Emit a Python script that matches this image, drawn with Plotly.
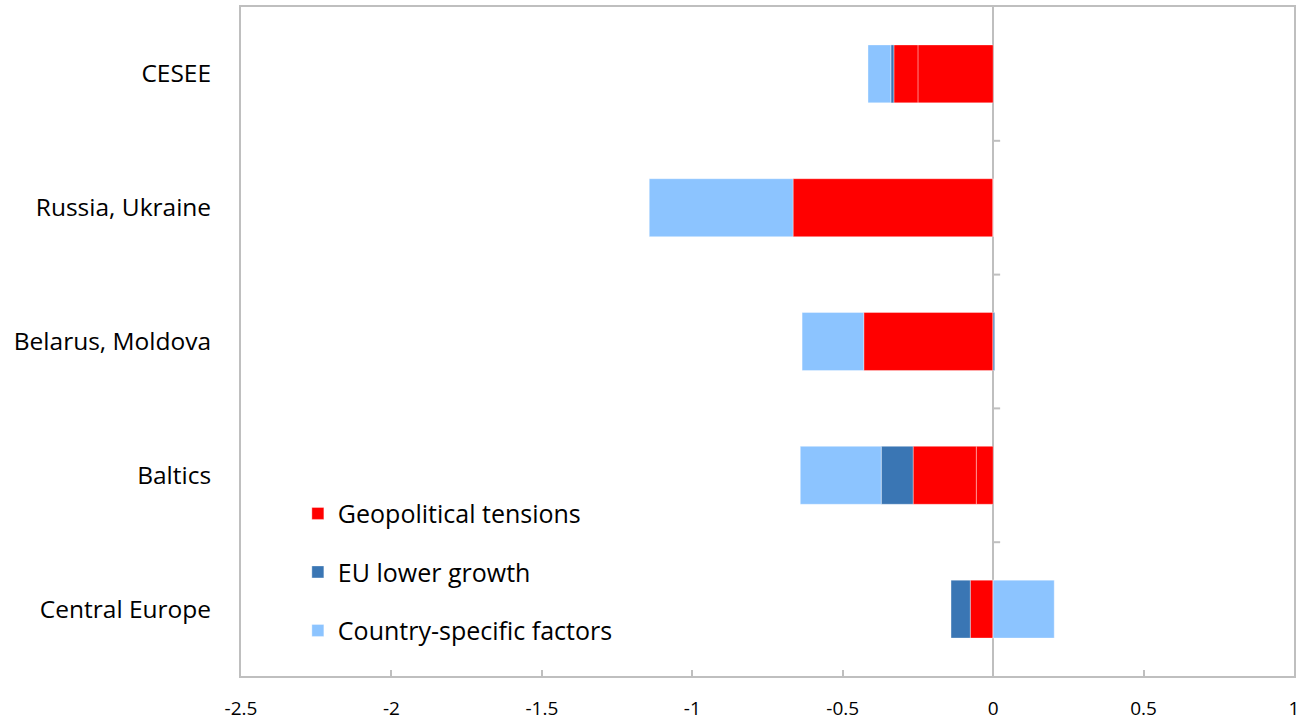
import plotly.graph_objects as go

# Regions, top to bottom
regions = ["CESEE", "Russia, Ukraine", "Belarus, Moldova", "Baltics", "Central Europe"]

# Contributions (percentage points), stacked outward from zero
geopolitical_a = [-0.25, -0.665, -0.43, -0.056, -0.076]
geopolitical_b = [-0.08, 0.0, 0.0, -0.21, 0.0]
eu_lower_growth = [-0.01, 0.0, 0.005, -0.106, -0.064]
country_specific = [-0.076, -0.478, -0.205, -0.269, 0.203]

x_ticks = [-2.5, -2, -1.5, -1, -0.5, 0, 0.5, 1]

RED = "#FF0000"
DARK_BLUE = "#3A76B4"
LIGHT_BLUE = "#8CC4FF"
GRID = "#BFBFBF"
EDGE = dict(color="rgba(255,255,255,0.35)", width=1)

fig = go.Figure()
fig.add_trace(go.Bar(y=regions, x=geopolitical_a, orientation="h", name="Geopolitical tensions",
                     marker=dict(color=RED, line=EDGE), legendgroup="g1"))
fig.add_trace(go.Bar(y=regions, x=geopolitical_b, orientation="h", name="Geopolitical tensions",
                     marker=dict(color=RED, line=EDGE), legendgroup="g1", showlegend=False))
fig.add_trace(go.Bar(y=regions, x=eu_lower_growth, orientation="h", name="EU lower growth",
                     marker=dict(color=DARK_BLUE, line=EDGE), legendgroup="g2"))
fig.add_trace(go.Bar(y=regions, x=country_specific, orientation="h", name="Country-specific factors",
                     marker=dict(color=LIGHT_BLUE, line=EDGE), legendgroup="g3"))

# Category boundary ticks on the zero axis
shapes = []
for i in range(len(regions) - 1):
    b = i + 0.5
    shapes.append(dict(type="line", xref="x", yref="y", xsizemode="pixel", xanchor=0,
                       x0=0, x1=7, y0=b, y1=b, line=dict(color=GRID, width=2), layer="above"))

fig.update_layout(
    barmode="relative",
    bargap=0.567,
    width=1299, height=721,
    margin=dict(l=241, r=5, t=7, b=45),
    paper_bgcolor="white", plot_bgcolor="white",
    font=dict(family="Open Sans", color="#000000"),
    shapes=shapes,
    legend=dict(x=0.054, y=0.277, xanchor="left", yanchor="top",
                font=dict(size=25, family="Open Sans"), bgcolor="rgba(0,0,0,0)",
                tracegroupgap=23, traceorder="grouped"),
    xaxis=dict(range=[-2.5, 1], tickvals=x_ticks, ticktext=[f"{v:g}" for v in x_ticks],
               showgrid=False, zeroline=True, zerolinecolor=GRID, zerolinewidth=2,
               showline=True, linecolor=GRID, linewidth=2, mirror=True,
               ticks="inside", ticklen=6, tickcolor=GRID, tickwidth=2,
               tickfont=dict(size=19), ticklabelstandoff=14, automargin=False,
               ticklabeloverflow="allow", layer="above traces"),
    yaxis=dict(categoryorder="array", categoryarray=regions, autorange="reversed",
               showgrid=False, showline=True, linecolor=GRID, linewidth=2, mirror=True,
               ticks="", tickfont=dict(size=24.5), ticklabelstandoff=23, automargin=False),
)

fig.write_html("out.html")
